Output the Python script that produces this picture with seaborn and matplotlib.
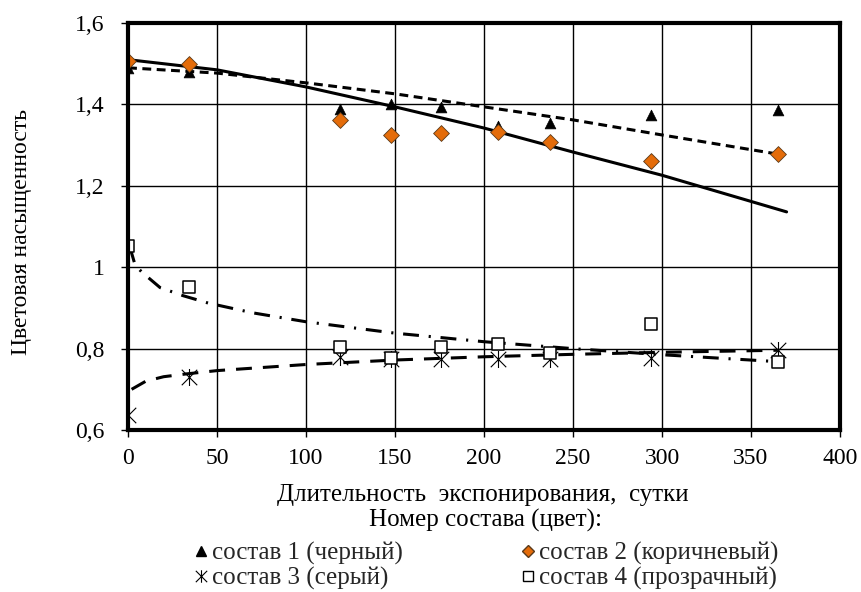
import matplotlib
matplotlib.use("Agg")
import matplotlib.pyplot as plt
from matplotlib.path import Path
from matplotlib.lines import Line2D
import seaborn as sns
import pandas as pd

# ---- data ----
days = [0, 34, 119, 148, 176, 208, 237, 294, 365]
s1_black = [1.49, 1.48, 1.389, 1.40, 1.394, 1.347, 1.354, 1.374, 1.386]
s2_brown = [1.507, 1.499, 1.362, 1.325, 1.33, 1.332, 1.308, 1.26, 1.278]
s3_grey = [0.637, 0.731, 0.78, 0.774, 0.774, 0.774, 0.774, 0.776, 0.797]
s4_clear = [1.052, 0.951, 0.805, 0.776, 0.805, 0.811, 0.79, 0.86, 0.768]

# trend lines
t1_x = [0, 50, 100, 150, 200, 250, 300, 365]
t1_y = [1.49, 1.477, 1.453, 1.426, 1.394, 1.362, 1.325, 1.278]
t2_x = [0, 50, 100, 150, 200, 250, 300, 370]
t2_y = [1.51, 1.485, 1.443, 1.394, 1.342, 1.283, 1.226, 1.136]
t3_x = [2, 10, 20, 33, 50, 100, 150, 200, 250, 300, 365]
t3_y = [0.70, 0.72, 0.731, 0.738, 0.746, 0.761, 0.772, 0.780, 0.786, 0.791, 0.796]
t4_x = [1, 4, 8, 18, 31, 45, 70, 100, 150, 200, 250, 300, 365]
t4_y = [1.05, 1.005, 0.987, 0.95, 0.93, 0.912, 0.888, 0.866, 0.838, 0.817, 0.80, 0.785, 0.768]

x_ticks = [0, 50, 100, 150, 200, 250, 300, 350, 400]
y_ticks = [0.6, 0.8, 1.0, 1.2, 1.4, 1.6]
y_tick_labels = ["0,6", "0,8", "1", "1,2", "1,4", "1,6"]

legend_labels = ["состав 1 (черный)", "состав 2 (коричневый)",
                 "состав 3 (серый)", "состав 4 (прозрачный)"]
x_label = "Длительность  экспонирования,  сутки"
y_label = "Цветовая насыщенность"
legend_title = "Номер состава (цвет):"

# ---- style ----
sns.set_theme(style="white")
plt.rcParams["font.family"] = ["Liberation Serif", "DejaVu Serif"]
FS_TICK = 17
FS_LAB = 18
brown = "#E46C0A"

star = Path([(-1, -1), (1, 1), (-1, 1), (1, -1), (0, -1.1), (0, 1.1)],
            [Path.MOVETO, Path.LINETO, Path.MOVETO, Path.LINETO, Path.MOVETO, Path.LINETO])

fig = plt.figure(figsize=(8.61, 5.92), dpi=100)
ax = fig.add_axes([0.1487, 0.2736, 0.8269, 0.6875])

lw = 2.2
sns.lineplot(x=t2_x, y=t2_y, ax=ax, color="black", lw=lw, linestyle="-", zorder=3)
sns.lineplot(x=t1_x, y=t1_y, ax=ax, color="black", lw=lw, linestyle=(0, (2.9, 1.8)), zorder=3)
sns.lineplot(x=t3_x, y=t3_y, ax=ax, color="black", lw=lw, linestyle=(0, (5.2, 3.6)), zorder=3)
sns.lineplot(x=t4_x, y=t4_y, ax=ax, color="black", lw=lw,
             linestyle=(0, (5.2, 3.2, 0.7, 3.2)), zorder=3)

df = pd.DataFrame({"x": days, "s1": s1_black, "s2": s2_brown, "s3": s3_grey, "s4": s4_clear})
sns.scatterplot(data=df, x="x", y="s1", ax=ax, marker="^", s=60, color="black",
                edgecolor="black", linewidth=0.5, zorder=5)
sns.scatterplot(data=df, x="x", y="s2", ax=ax, marker="D", s=65, color=brown,
                edgecolor="#5a3a1a", linewidth=0.6, zorder=5)
sns.scatterplot(data=df, x="x", y="s3", ax=ax, marker=star, s=150, color="black",
                edgecolor="black", linewidth=0.8, zorder=5)
sns.scatterplot(data=df, x="x", y="s4", ax=ax, marker="s", s=70, color="white",
                edgecolor="black", linewidth=1.1, zorder=5)

ax.set_xlim(0, 400)
ax.set_ylim(0.6, 1.6)
ax.set_xticks(x_ticks)
ax.set_yticks(y_ticks)
ax.set_yticklabels(y_tick_labels)
ax.grid(True, color="black", linewidth=1.0)
ax.set_axisbelow(True)
for side in ["left", "bottom", "top", "right"]:
    ax.spines[side].set_color("black")
    ax.spines[side].set_linewidth(3.0)
    ax.spines[side].set_zorder(6)
ax.tick_params(axis="both", which="major", direction="out", length=5, width=1,
               color="black", labelsize=FS_TICK, labelcolor="black", left=True, bottom=True)
ax.tick_params(axis="x", pad=8)
ax.tick_params(axis="y", pad=12)
ax.set_xlabel(x_label, fontsize=FS_LAB, color="black")
ax.set_ylabel(y_label, fontsize=FS_LAB - 1, color="black")
ax.xaxis.set_label_coords((483 - 128) / 712, (430 - 495) / 407)
ax.xaxis.label.set_va("center")
ax.yaxis.set_label_coords((21 - 128) / 712, (430 - 232) / 407)
ax.yaxis.label.set_va("center")

fig.text(485 / 861, 1 - 520 / 592, legend_title, fontsize=FS_LAB, ha="center", va="center", color="black")

h1 = Line2D([], [], marker="^", color="black", ls="none", markersize=6.5)
h2 = Line2D([], [], marker="D", color=brown, markeredgecolor="#5a3a1a", ls="none", markersize=6.5)
h3 = Line2D([], [], marker=star, color="black", ls="none", markersize=9, markeredgewidth=0.8)
h4 = Line2D([], [], marker="s", markerfacecolor="white", markeredgecolor="black", ls="none", markersize=6.5)
fig.legend([h1, h3, h2, h4], [legend_labels[0], legend_labels[2], legend_labels[1], legend_labels[3]],
           ncol=2, loc="center", bbox_to_anchor=(485 / 861, 1 - 566 / 592), frameon=False,
           fontsize=FS_LAB, handlelength=0.7, handletextpad=0.1, columnspacing=4.65,
           labelspacing=0.08, borderpad=0)

fig.savefig("out.png", dpi=100)
